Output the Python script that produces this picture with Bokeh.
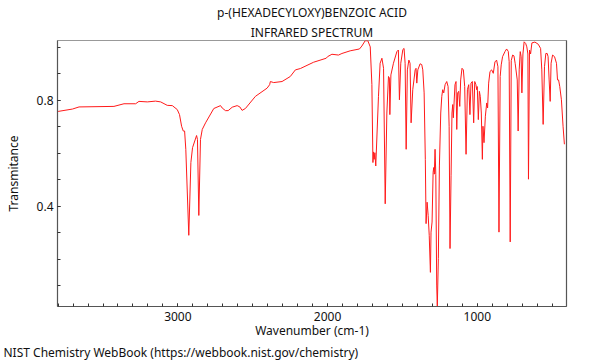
from bokeh.plotting import figure
from bokeh.models import Range1d, FixedTicker, LinearAxis, Title
from bokeh.embed import file_html
from bokeh.resources import INLINE

title_line1 = "p-(HEXADECYLOXY)BENZOIC ACID"
title_line2 = "INFRARED SPECTRUM"
x_label = "Wavenumber (cm-1)"
y_label = "Transmitance"
footer = "NIST Chemistry WebBook (https://webbook.nist.gov/chemistry)"

x_major_ticks = [1000, 2000, 3000]
x_minor_ticks = list(range(500, 3900, 100))
y_major_ticks = [0.4, 0.8]
y_minor_ticks = [0.1, 0.2, 0.3, 0.4, 0.5, 0.6, 0.7, 0.8, 0.9, 1.0]

wavenumber = [
    3800, 3704, 3660, 3427, 3360, 3282, 3260, 3204, 3149, 3115, 3071, 3037, 3004,
    2989, 2975, 2964, 2955, 2947, 2927, 2913, 2902, 2875, 2869, 2860, 2849, 2837,
    2815, 2760, 2715, 2704, 2682, 2664, 2637, 2604, 2586, 2571, 2549, 2482, 2404,
    2387, 2382, 2360, 2304, 2249, 2215, 2182, 2093, 2009, 2000, 1971, 1927, 1904,
    1849, 1787, 1771, 1749, 1731, 1715, 1704, 1697, 1693, 1689, 1684, 1678, 1660,
    1649, 1637, 1626, 1615, 1604, 1593, 1587, 1584, 1577, 1560, 1537, 1527, 1520,
    1511, 1497, 1489, 1482, 1475, 1467, 1457, 1449, 1442, 1431, 1415, 1409, 1404,
    1397, 1382, 1371, 1364, 1355, 1347, 1342, 1335, 1328, 1321, 1313, 1309, 1302,
    1295, 1291, 1287, 1282, 1277, 1271, 1267, 1260, 1253, 1244, 1237, 1231, 1224,
    1215, 1204, 1195, 1188, 1182, 1175, 1169, 1164, 1160, 1155, 1149, 1142, 1137,
    1131, 1124, 1117, 1111, 1102, 1093, 1084, 1075, 1066, 1057, 1049, 1042, 1033,
    1024, 1017, 1009, 1004, 1000, 993, 986, 980, 973, 966, 962, 955, 946, 937, 931,
    924, 915, 904, 893, 882, 871, 862, 855, 847, 840, 831, 815, 804, 793, 787, 780,
    773, 764, 755, 747, 733, 727, 720, 713, 707, 702, 695, 687, 677, 669, 662, 658,
    651, 644, 635, 615, 593, 577, 569, 560, 551, 542, 533, 527, 520, 513, 507, 497,
    484, 471, 464, 457, 449, 438, 427, 418,
]
transmittance = [
    0.758, 0.767, 0.775, 0.777, 0.787, 0.787, 0.796, 0.794, 0.797, 0.794, 0.781, 0.780, 0.765,
    0.746, 0.702, 0.684, 0.684, 0.615, 0.290, 0.565, 0.621, 0.667, 0.652, 0.365, 0.652, 0.690,
    0.715, 0.769, 0.780, 0.771, 0.761, 0.761, 0.774, 0.780, 0.775, 0.762, 0.769, 0.815, 0.846,
    0.859, 0.871, 0.867, 0.871, 0.890, 0.915, 0.920, 0.944, 0.959, 0.965, 0.974, 0.971, 0.977,
    0.987, 0.994, 1.005, 1.025, 1.025, 1.002, 0.860, 0.565, 0.605, 0.577, 0.602, 0.552, 0.815,
    0.940, 0.959, 0.921, 0.409, 0.752, 0.890, 0.884, 0.746, 0.896, 0.940, 0.984, 0.990, 0.802,
    0.940, 0.992, 0.996, 0.940, 0.615, 0.915, 0.952, 0.940, 0.715, 0.840, 0.915, 0.921, 0.865,
    0.915, 0.938, 0.935, 0.915, 0.828, 0.577, 0.334, 0.415, 0.365, 0.290, 0.150, 0.302, 0.340,
    0.528, 0.546, 0.521, 0.615, 0.520, 0.102, 0.021, 0.202, 0.552, 0.752, 0.815, 0.840, 0.828,
    0.859, 0.871, 0.852, 0.702, 0.240, 0.515, 0.752, 0.784, 0.734, 0.790, 0.859, 0.871, 0.690,
    0.828, 0.834, 0.777, 0.877, 0.921, 0.915, 0.852, 0.596, 0.840, 0.859, 0.746, 0.865, 0.871,
    0.715, 0.871, 0.859, 0.840, 0.852, 0.727, 0.834, 0.815, 0.752, 0.577, 0.702, 0.640, 0.740, 0.790, 0.771,
    0.865, 0.909, 0.915, 0.902, 0.945, 0.952, 0.927, 0.302, 0.890, 0.934, 0.965, 0.984, 0.994, 0.985, 0.946, 0.265,
    0.950, 0.971, 0.968, 0.940, 0.877, 0.684, 0.915, 0.984, 0.965, 0.828, 0.975, 1.021, 1.015, 1.002, 0.975, 0.502,
    0.990, 0.975, 1.017, 1.020, 1.012, 0.996, 0.915, 0.709, 0.927, 0.977, 0.977, 0.965, 0.877, 0.796, 0.940, 0.971,
    0.965, 0.940, 0.877, 0.877, 0.852, 0.802, 0.702, 0.634,
]

FONT = "Noto Sans"

p = figure(width=600, height=360, output_backend="svg", toolbar_location=None,
           x_range=Range1d(3804, 404), y_range=Range1d(0.021, 1.026),
           min_border_left=57, min_border_right=34, min_border_top=40, min_border_bottom=52,
           background_fill_color="white", border_fill_color="white")
p.title.text = ""
p.grid.visible = False
p.outline_line_color = "#999999"
p.outline_line_width = 1

p.line(wavenumber, transmittance, line_color="#ff1a1a", line_width=1)

xa = p.xaxis[0]
xa.ticker = FixedTicker(ticks=x_major_ticks, minor_ticks=x_minor_ticks)
xa.axis_label = x_label
ya = p.yaxis[0]
ya.ticker = FixedTicker(ticks=y_major_ticks, minor_ticks=y_minor_ticks)
ya.axis_label = y_label
for ax in (xa, ya):
    ax.axis_line_color = "#555555"
    ax.axis_line_width = 1.2
    ax.major_tick_in = 3
    ax.major_tick_out = 0
    ax.minor_tick_in = 3
    ax.minor_tick_out = 0
    ax.major_tick_line_color = "#333333"
    ax.minor_tick_line_color = "#333333"
    ax.major_label_text_font = FONT
    ax.major_label_text_font_size = "12px"
    ax.major_label_text_color = "#111111"
    ax.axis_label_text_font = FONT
    ax.axis_label_text_font_size = "12px"
    ax.axis_label_text_font_style = "normal"
    ax.axis_label_text_color = "#111111"
xa.major_label_standoff = 5
xa.axis_label_standoff = -2
ya.major_label_standoff = 4
ya.axis_label_standoff = 12

ra = LinearAxis(ticker=FixedTicker(ticks=[]), major_label_text_font_size="0px",
                major_tick_line_color=None, minor_tick_line_color=None,
                axis_line_color="#555555", axis_line_width=1.2)
p.add_layout(ra, "right")

p.add_layout(Title(text=title_line2, align="center", text_font=FONT, text_font_size="12px",
                   text_font_style="normal", text_color="#111111", standoff=0), "above")
p.add_layout(Title(text=title_line1, align="center", text_font=FONT, text_font_size="12px",
                   text_font_style="normal", text_color="#111111", standoff=2), "above")
p.add_layout(Title(text=footer, align="left", offset=-54, text_font=FONT, text_font_size="12px",
                   text_font_style="normal", text_color="#111111", standoff=0), "below")

open("out.html", "w").write(file_html(p, INLINE))
